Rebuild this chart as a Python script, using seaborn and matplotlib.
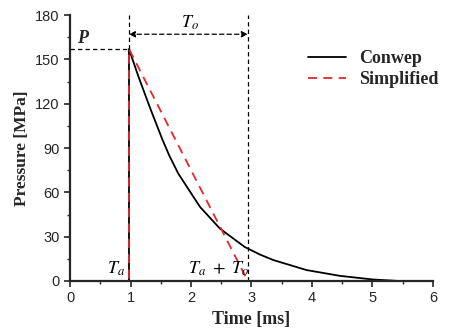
import matplotlib
matplotlib.use("Agg")
import matplotlib.pyplot as plt
from matplotlib.ticker import MultipleLocator
import seaborn as sns
import pandas as pd

# Conwep pressure history (ms, MPa)
conwep_t = [0.0, 0.975, 0.975, 1.13, 1.32, 1.52, 1.64, 1.79, 2.15, 2.48,
            2.89, 3.14, 3.36, 3.91, 4.46, 5.01, 5.45]
conwep_p = [0.0, 0.0, 157.0, 138.5, 117.5, 96.5, 85.0, 72.7, 50.1, 35.4,
            23.0, 17.9, 14.2, 7.4, 3.5, 1.0, 0.0]

# Simplified triangular pulse
simp_t = [0.0, 0.975, 0.975, 2.94]
simp_p = [0.0, 0.0, 157.0, 0.0]

t_arrival = 0.975
t_end = 2.94
p_peak = 157.0

sns.set_style("ticks")
plt.rcParams["font.family"] = ["Liberation Sans", "DejaVu Sans"]
plt.rcParams["mathtext.fontset"] = "stix"

df_c = pd.DataFrame({"t": conwep_t, "p": conwep_p})
df_s = pd.DataFrame({"t": simp_t, "p": simp_p})

fig = plt.figure(figsize=(4.5, 3.34), dpi=100)
ax = fig.add_axes([0.1556, 0.1587, 0.8064, 0.7963])

sns.lineplot(data=df_c, x="t", y="p", sort=False, estimator=None, ax=ax,
             color="black", lw=1.3, label="Conwep")
sns.lineplot(data=df_s, x="t", y="p", sort=False, estimator=None, ax=ax,
             color="#e8262b", lw=1.3, dashes=False, label="Simplified")
ax.lines[1].set_dashes([5, 3.5])

# Guide lines
guide = dict(color="black", lw=0.9, ls=(0, (3.5, 2.5)))
ax.plot([0, t_arrival], [p_peak, p_peak], **guide)
ax.plot([t_arrival, t_arrival], [p_peak, 180], **guide)
ax.plot([t_end, t_end], [0, 180], **guide)
ax.annotate("", xy=(t_arrival, 167), xytext=(t_end, 167),
            arrowprops=dict(arrowstyle="<|-|>", color="black", lw=0.9,
                            ls=(0, (3.5, 2.5)), mutation_scale=9,
                            shrinkA=0, shrinkB=0))

lab = dict(fontsize=13, color="black")
ax.text(0.2, 164, "P", family="Liberation Serif", fontweight="bold",
        style="italic", fontsize=13, ha="center", va="center")
ax.text(1.98, 175, r"$\boldsymbol{T_o}$", ha="center", va="center", **lab)
ax.text(0.76, 8.5, r"$\boldsymbol{T_a}$", ha="center", va="center", **lab)
ax.text(2.45, 8.5, r"$\boldsymbol{T_a}\ +\ \boldsymbol{T_o}$", ha="center", va="center", **lab)

ax.set_xlim(0, 6)
ax.set_ylim(0, 180)
ax.xaxis.set_major_locator(MultipleLocator(1))
ax.xaxis.set_minor_locator(MultipleLocator(0.5))
ax.yaxis.set_major_locator(MultipleLocator(30))
ax.yaxis.set_minor_locator(MultipleLocator(15))
ax.tick_params(which="major", length=4, width=1.2, labelsize=10.5, direction="out")
ax.tick_params(which="minor", length=2.5, width=1.0, direction="out")
for s in ["left", "bottom"]:
    ax.spines[s].set_linewidth(1.6)
sns.despine(ax=ax)

ax.set_xlabel("Time [ms]", family="Liberation Serif", fontweight="bold", fontsize=13)
ax.set_ylabel("Pressure [MPa]", family="Liberation Serif", fontweight="bold", fontsize=12.5)

leg = ax.legend(loc="upper right", bbox_to_anchor=(1.06, 0.93), frameon=False,
                prop=dict(family="Liberation Serif", weight="bold", size=13),
                handlelength=2.1, handletextpad=0.7, labelspacing=0.25)

fig.savefig("out.png", dpi=100)
